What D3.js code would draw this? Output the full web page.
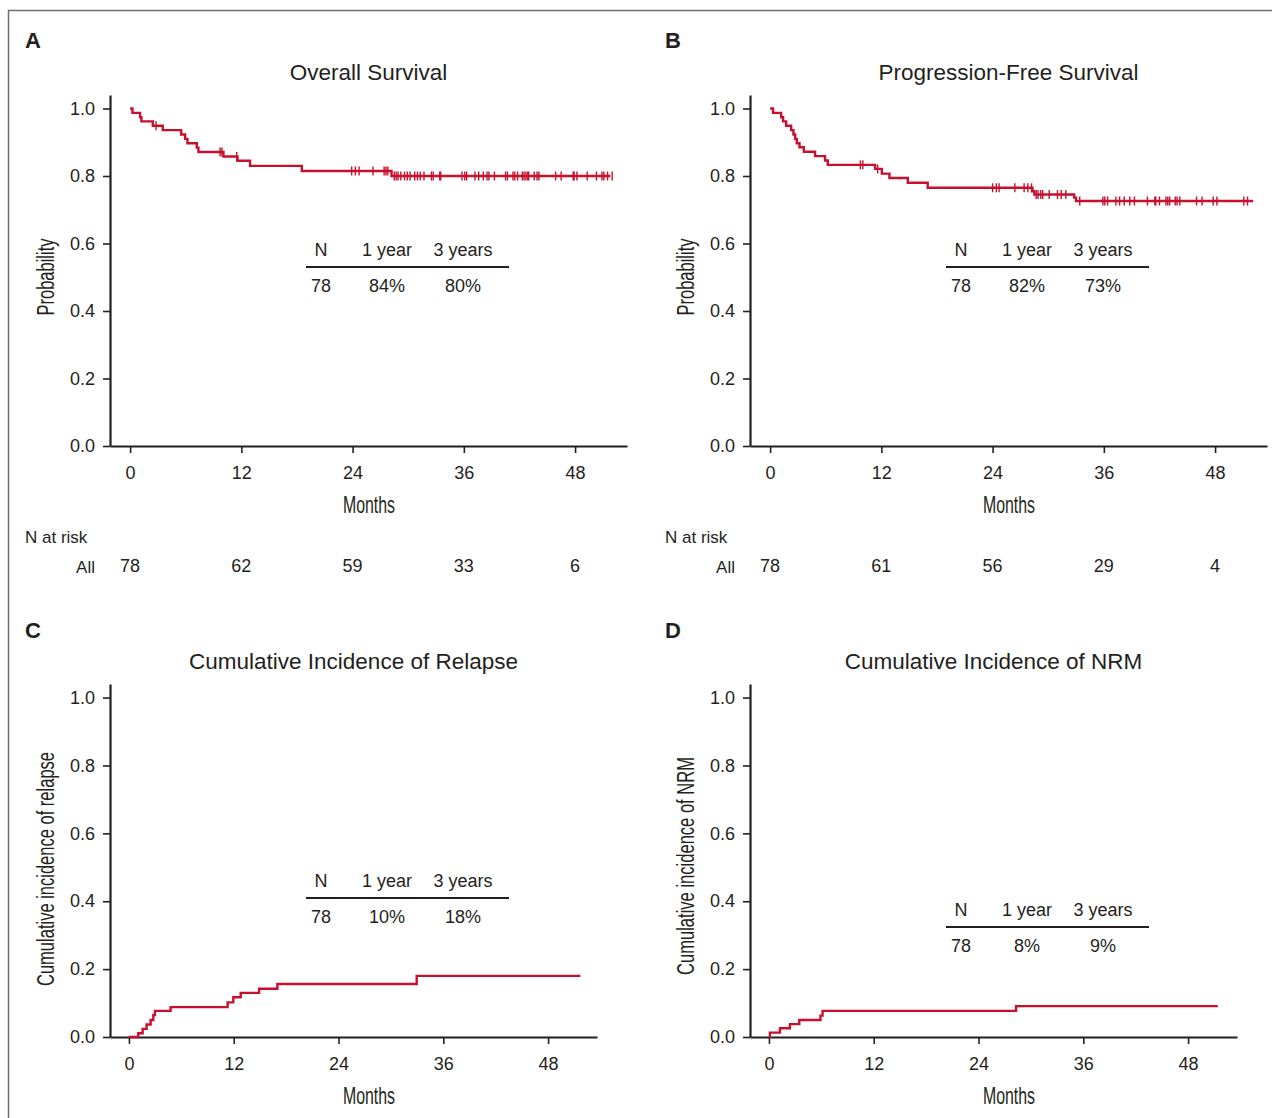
<!DOCTYPE html>
<html lang="en">
<head>
    <meta charset="UTF-8">
    <title>Survival and cumulative incidence</title>
    <script src="https://d3js.org/d3.v7.min.js"></script>
    <style>
        body { margin: 0; background: #fff; }
        text { font-family: "Liberation Sans", Arial, sans-serif; fill: #231f20; }
        .narrow { font-family: "Liberation Sans Narrow", "Liberation Sans", sans-serif; }
    </style>
</head>
<body>
<script>

    // axis ticks
    const monthTicks = [0, 12, 24, 36, 48]
    const probTicks = [0, 0.2, 0.4, 0.6, 0.8, 1.0]
    const tableHeaders = ["N", "1 year", "3 years"]

    // A - overall survival (step times in months and value after each step)
    const osEventMonths = [0.25, 1.08, 1.22, 2.45, 3.52, 5.5, 5.93, 6.18, 7.19, 7.37, 10.07, 11.58, 12.94, 18.52, 28.2]
    const osSurvival = [0.987, 0.974, 0.962, 0.949, 0.936, 0.923, 0.910, 0.897, 0.884, 0.871, 0.858, 0.845, 0.830, 0.815, 0.800]
    const osCensorMonths = [2.8, 9.7, 9.9, 11.5, 23.9, 24.3, 24.7, 26.2, 27.4, 27.6, 27.8, 28.5, 28.7, 28.9, 29.2, 29.6,
        29.9, 30.2, 30.7, 31.0, 31.3, 31.7, 32.5, 32.7, 33.4, 33.5, 35.8, 36.1, 36.3, 37.2, 37.6, 38.1, 38.5, 38.7, 39.3,
        40.5, 40.7, 41.3, 41.5, 41.8, 42.3, 42.5, 42.7, 42.9, 43.0, 43.6, 43.9, 44.1, 45.9, 46.5, 47.8, 47.9, 48.2,
        49.3, 50.3, 50.9, 51.1, 51.5, 52.0]
    const osLastMonth = 51.8
    const osAtRisk = [78, 62, 59, 33, 6]
    const osTable = ["78", "84%", "80%"]

    // B - progression-free survival
    const pfsEventMonths = [0.32, 1.19, 1.40, 1.73, 2.27, 2.52, 2.70, 2.88, 3.17, 3.63, 4.85, 5.93, 6.22, 11.33, 12.05, 12.87, 14.85, 17.0, 28.3, 28.5, 32.8, 33.0]
    const pfsSurvival = [0.987, 0.974, 0.962, 0.949, 0.936, 0.923, 0.910, 0.897, 0.885, 0.872, 0.859, 0.846, 0.833, 0.821, 0.807, 0.794, 0.780, 0.765, 0.755, 0.745, 0.736, 0.726]
    const pfsCensorMonths = [9.74, 10.0, 11.6, 24.0, 24.4, 24.7, 26.4, 27.4, 27.8, 28.2, 28.7, 28.9, 29.2, 29.4, 30.1,
        31.0, 31.4, 31.9, 33.4, 35.9, 36.1, 36.4, 37.3, 37.7, 38.2, 38.8, 39.3, 40.7, 41.5, 41.6, 42.0, 42.7, 42.9,
        43.1, 43.7, 43.9, 44.2, 46.0, 46.6, 47.8, 48.2, 51.1, 51.5]
    const pfsLastMonth = 52.1
    const pfsAtRisk = [78, 61, 56, 29, 4]
    const pfsTable = ["78", "82%", "73%"]

    // C - cumulative incidence of relapse
    const relEventMonths = [1.07, 1.57, 2.02, 2.48, 2.79, 2.98, 4.77, 11.3, 11.95, 12.8, 14.9, 17.0, 32.95]
    const relIncidence = [0.011, 0.024, 0.037, 0.050, 0.065, 0.077, 0.088, 0.102, 0.117, 0.130, 0.142, 0.156, 0.180]
    const relLastMonth = 51.7
    const relTable = ["78", "10%", "18%"]

    // D - cumulative incidence of NRM
    const nrmEventMonths = [0.11, 1.26, 2.4, 3.47, 5.9, 6.14, 28.3]
    const nrmIncidence = [0.013, 0.026, 0.038, 0.050, 0.063, 0.077, 0.091]
    const nrmLastMonth = 51.4
    const nrmTable = ["78", "8%", "9%"]

    const red = "#c8102e"
    const ink = "#231f20"
    const monthDomain = [-2.17, 53.6]

    const svg = d3.select("body")
        .append("svg")
        .attr("width", 1272)
        .attr("height", 1118)

    // figure frame (only top and left edges show)
    svg.append("path")
        .attr("d", "M8.5,1118 L8.5,10.5 L1272,10.5")
        .attr("fill", "none")
        .attr("stroke", "#6d6e71")
        .attr("stroke-width", 1.5)

    const panels = [
        { letter: "A", title: "Overall Survival", ylabel: "Probability", ylabelLen: 77, ylabelY: 277,
          left: 110, right: 627, top: 95, bottom: 446, start: 1,
          months: osEventMonths, values: osSurvival, censor: osCensorMonths, last: osLastMonth,
          atRisk: osAtRisk, table: osTable, tableX: 306, tableY: 256, monthsX: 369 },
        { letter: "B", title: "Progression-Free Survival", ylabel: "Probability", ylabelLen: 77, ylabelY: 277,
          left: 750, right: 1267, top: 95, bottom: 446, start: 1,
          months: pfsEventMonths, values: pfsSurvival, censor: pfsCensorMonths, last: pfsLastMonth,
          atRisk: pfsAtRisk, table: pfsTable, tableX: 946, tableY: 256, monthsX: 1009 },
        { letter: "C", title: "Cumulative Incidence of Relapse", ylabel: "Cumulative incidence of relapse", ylabelLen: 234, ylabelY: 869,
          left: 110, right: 597, top: 684, bottom: 1037, start: 0,
          months: relEventMonths, values: relIncidence, censor: [], last: relLastMonth,
          atRisk: null, table: relTable, tableX: 306, tableY: 887, monthsX: 369 },
        { letter: "D", title: "Cumulative Incidence of NRM", ylabel: "Cumulative incidence of NRM", ylabelLen: 218, ylabelY: 866,
          left: 750, right: 1237, top: 684, bottom: 1037, start: 0,
          months: nrmEventMonths, values: nrmIncidence, censor: [], last: nrmLastMonth,
          atRisk: null, table: nrmTable, tableX: 946, tableY: 916, monthsX: 1009 }
    ]

    panels.forEach(drawPanel)

    function drawPanel(p) {
        const x = d3.scaleLinear().domain(monthDomain).range([p.left, p.right])
        const y = d3.scaleLinear().domain([0, 1.04]).range([p.bottom, p.top])
        const ox = p.left < 600 ? 0 : 640
        const oy = p.bottom < 600 ? 0 : 590

        // panel letter and title
        svg.append("text")
            .attr("x", 25 + ox).attr("y", 48 + oy)
            .style("font-size", "22px").style("font-weight", "bold")
            .text(p.letter)

        svg.append("text")
            .attr("x", (p.left + p.right) / 2).attr("y", p.top - 15)
            .attr("text-anchor", "middle")
            .style("font-size", "22.5px")
            .text(p.title)

        // axes
        const xAxis = svg.append("g")
            .attr("transform", `translate(0,${p.bottom})`)
            .call(d3.axisBottom(x).tickValues(monthTicks).tickSize(7).tickSizeOuter(0).tickPadding(13))
        const yAxis = svg.append("g")
            .attr("transform", `translate(${p.left},0)`)
            .call(d3.axisLeft(y).tickValues(probTicks).tickFormat(d3.format(".1f")).tickSize(7).tickSizeOuter(0).tickPadding(8))

        ;[xAxis, yAxis].forEach(a => {
            a.select(".domain").attr("stroke", ink).attr("stroke-width", 2.2)
            a.selectAll(".tick line").attr("stroke", ink).attr("stroke-width", 1.6)
            a.selectAll(".tick text")
                .style("font-family", '"Liberation Sans", Arial, sans-serif')
                .style("font-size", "18px").attr("fill", ink)
        })

        svg.append("text")
            .attr("class", "narrow")
            .attr("x", p.monthsX).attr("y", p.bottom + 67)
            .attr("text-anchor", "middle")
            .attr("textLength", 52).attr("lengthAdjust", "spacingAndGlyphs")
            .style("font-size", "24px")
            .text("Months")

        svg.append("text")
            .attr("class", "narrow")
            .attr("transform", `translate(${54 + ox},${p.ylabelY}) rotate(-90)`)
            .attr("text-anchor", "middle")
            .attr("textLength", p.ylabelLen).attr("lengthAdjust", "spacingAndGlyphs")
            .style("font-size", "23px")
            .text(p.ylabel)

        // step curve
        const pts = [[0, p.start]]
            .concat(p.months.map((m, i) => [m, p.values[i]]))
            .concat([[p.last, p.values[p.values.length - 1]]])

        const line = d3.line()
            .x(d => x(d[0]))
            .y(d => y(d[1]))
            .curve(d3.curveStepAfter)

        svg.append("path")
            .datum(pts)
            .attr("d", line)
            .attr("fill", "none")
            .attr("stroke", red)
            .attr("stroke-width", 2.4)

        // censor marks sit on the curve value at that month
        const valueAt = t => {
            let v = p.start
            p.months.forEach((m, i) => { if (m <= t) v = p.values[i] })
            return v
        }

        svg.selectAll(null)
            .data(p.censor)
            .enter()
            .append("line")
            .attr("x1", d => x(d)).attr("x2", d => x(d))
            .attr("y1", d => y(valueAt(d)) - 4.5)
            .attr("y2", d => y(valueAt(d)) + 4.5)
            .attr("stroke", red)
            .attr("stroke-width", 1.4)

        // summary table
        const cols = [15, 81, 157]
        const tg = svg.append("g").attr("transform", `translate(${p.tableX},${p.tableY})`)
        tg.selectAll(null).data(tableHeaders).enter().append("text")
            .attr("x", (d, i) => cols[i]).attr("y", 0)
            .attr("text-anchor", "middle")
            .style("font-size", "18px")
            .text(d => d)
        tg.append("line")
            .attr("x1", 0).attr("x2", 203).attr("y1", 11).attr("y2", 11)
            .attr("stroke", ink).attr("stroke-width", 2.2)
        tg.selectAll(null).data(p.table).enter().append("text")
            .attr("x", (d, i) => cols[i]).attr("y", 36)
            .attr("text-anchor", "middle")
            .style("font-size", "18px")
            .text(d => d)

        // numbers at risk
        if (p.atRisk) {
            svg.append("text")
                .attr("x", 25 + ox).attr("y", 543)
                .style("font-size", "17px")
                .text("N at risk")
            svg.append("text")
                .attr("x", 95 + ox).attr("y", 573)
                .attr("text-anchor", "end")
                .style("font-size", "17px")
                .text("All")
            svg.selectAll(null)
                .data(p.atRisk)
                .enter()
                .append("text")
                .attr("x", (d, i) => x(monthTicks[i]))
                .attr("y", 572)
                .attr("text-anchor", "middle")
                .style("font-size", "18px")
                .text(d => d)
        }
    }

</script>
</body>
</html>
